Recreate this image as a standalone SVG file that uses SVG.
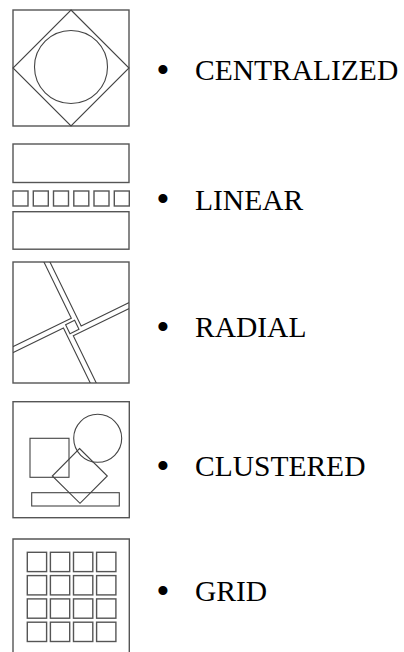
<svg xmlns="http://www.w3.org/2000/svg" width="404" height="652" viewBox="0 0 404 652">
<style>
.s{fill:none;stroke:#444;stroke-width:1.1}
.b{fill:none;stroke:#555;stroke-width:1.4}
.t{font-family:"Liberation Serif","Times New Roman",serif;font-size:29.5px;fill:#000}
.d{font-family:"Liberation Serif","Times New Roman",serif;font-size:38px;fill:#000;text-anchor:middle}
</style>
<defs>
<clipPath id="cr"><rect x="13" y="262" width="116" height="121"/></clipPath>
</defs>
<rect width="404" height="652" fill="#fff"/>
<g id="centralized">
<rect class="b" x="13" y="10" width="116" height="116"/>
<polygon class="s" points="71,10 129,68 71,126 13,68"/>
<circle class="s" cx="71" cy="67" r="36.5"/>
<text class="d" x="163" y="82.5">•</text>
<text class="t" x="195" y="80">CENTRALIZED</text>
</g>
<g id="linear">
<rect class="b" x="13" y="144" width="116" height="38.5"/>
<rect class="b" x="13" y="191" width="15" height="15"/>
<rect class="b" x="33.3" y="191" width="15" height="15"/>
<rect class="b" x="53.5" y="191" width="15" height="15"/>
<rect class="b" x="73.8" y="191" width="15" height="15"/>
<rect class="b" x="94" y="191" width="15" height="15"/>
<rect class="b" x="114.3" y="191" width="15" height="15"/>
<rect class="b" x="13" y="211.7" width="116" height="37.5"/>
<text class="d" x="163" y="212">•</text>
<text class="t" x="195" y="209.5">LINEAR</text>
</g>
<g id="radial">
<rect class="b" x="13" y="262" width="116" height="121"/>
<g clip-path="url(#cr)">
<g transform="translate(72.3,327) rotate(-26)">
<path class="s" d="M3,-100 V-8.4 H-100"/>
<path class="s" d="M8.4,-100 V3 H100"/>
<path class="s" d="M100,8.4 H-3 V100"/>
<path class="s" d="M-8.4,100 V-3 H-100"/>
<rect class="s" x="-5" y="-5" width="10" height="10"/>
</g>
</g>
<text class="d" x="163" y="339.5">•</text>
<text class="t" x="195" y="337">RADIAL</text>
</g>
<g id="clustered">
<rect class="b" x="13" y="401.7" width="116.3" height="116"/>
<circle class="s" cx="97.7" cy="438.3" r="24"/>
<rect class="s" x="30" y="438.3" width="39" height="39"/>
<polygon class="s" points="79.5,448.5 107.3,476 80,503.3 52.3,476"/>
<rect class="s" x="31.7" y="492.7" width="87.6" height="13.3"/>
<text class="d" x="163" y="478.5">•</text>
<text class="t" x="195" y="476">CLUSTERED</text>
</g>
<g id="grid">
<path class="b" d="M13,660 V539 H129.3 V660"/>
<g class="b">
<rect x="27.3" y="552.3" width="19.3" height="19.3"/><rect x="50.4" y="552.3" width="19.3" height="19.3"/><rect x="73.5" y="552.3" width="19.3" height="19.3"/><rect x="96.6" y="552.3" width="19.3" height="19.3"/>
<rect x="27.3" y="575.6" width="19.3" height="19.3"/><rect x="50.4" y="575.6" width="19.3" height="19.3"/><rect x="73.5" y="575.6" width="19.3" height="19.3"/><rect x="96.6" y="575.6" width="19.3" height="19.3"/>
<rect x="27.3" y="598.9" width="19.3" height="19.3"/><rect x="50.4" y="598.9" width="19.3" height="19.3"/><rect x="73.5" y="598.9" width="19.3" height="19.3"/><rect x="96.6" y="598.9" width="19.3" height="19.3"/>
<rect x="27.3" y="622.2" width="19.3" height="19.3"/><rect x="50.4" y="622.2" width="19.3" height="19.3"/><rect x="73.5" y="622.2" width="19.3" height="19.3"/><rect x="96.6" y="622.2" width="19.3" height="19.3"/>
</g>
<text class="d" x="163" y="603.5">•</text>
<text class="t" x="195" y="601">GRID</text>
</g>
</svg>
